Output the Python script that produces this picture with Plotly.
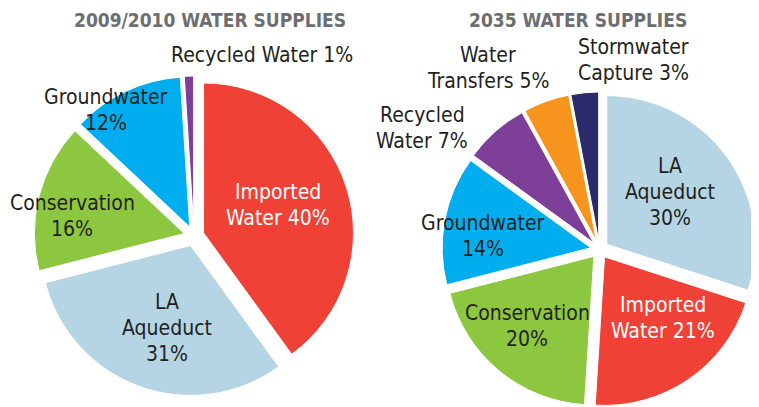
import plotly.graph_objects as go

W, H = 759, 407
OFF = 8  # Standard-Rand des <body> im Browser
FIG_W, FIG_H = W - OFF, H - OFF
FONT = "DejaVu Sans Condensed, Liberation Sans Narrow, Arial Narrow, sans-serif"
INK = "#231F20"
TITLE_GRAY = "#6D6E71"

# 2009/2010, im Uhrzeigersinn ab 12 Uhr
labels_2010 = ["Imported Water", "LA Aqueduct", "Conservation", "Groundwater", "Recycled Water"]
values_2010 = [40, 31, 16, 12, 1]
text_2010 = ["Imported<br>Water {}%", "LA<br>Aqueduct<br>{}%", "Conservation<br>{}%",
             "Groundwater<br>{}%", "Recycled Water {}%"]

# 2035
labels_2035 = ["LA Aqueduct", "Imported Water", "Conservation", "Groundwater",
               "Recycled Water", "Water Transfers", "Stormwater Capture"]
values_2035 = [30, 21, 20, 14, 7, 5, 3]
text_2035 = ["LA<br>Aqueduct<br>{}%", "Imported<br>Water {}%", "Conservation<br>{}%",
             "Groundwater<br>{}%", "Recycled<br>Water {}%", "Water<br>Transfers {}%",
             "Stormwater<br>Capture {}%"]

COLORS = {
    "Imported Water": "#EF4136",
    "LA Aqueduct": "#B5D5E4",
    "Conservation": "#8DC63F",
    "Groundwater": "#00AEEF",
    "Recycled Water": "#7E3F98",
    "Water Transfers": "#F7941D",
    "Stormwater Capture": "#2B2A6A",
}

# Label-Positionen (Pixel im Fenster, Mitte des Textblocks)
pos_2010 = [(278, 205), (167, 328), (72, 216), (106, 110), (262, 55)]
pos_2035 = [(670, 192), (663, 318), (527, 326), (483, 236), (422, 128), (488, 68), (633, 60)]


def px(x):
    return (x - OFF) / FIG_W


def py(y):
    return 1 - (y - OFF) / FIG_H


def add_pie(fig, labels, values, dom_x, dom_y, pull):
    fig.add_pie(
        labels=labels, values=values, sort=False, direction="clockwise", rotation=0,
        marker=dict(colors=[COLORS[l] for l in labels], line=dict(color="white", width=1)),
        pull=[pull] * len(values), textinfo="none", hoverinfo="label+percent",
        domain=dict(x=[max(px(dom_x[0]), 0), min(px(dom_x[1]), 1)],
                    y=[max(py(dom_y[1]), 0), min(py(dom_y[0]), 1)]),
    )


def add_labels(fig, labels, values, templates, positions):
    for lab, val, tpl, (cx, cy) in zip(labels, values, templates, positions):
        lines = tpl.format(val).split("<br>")
        color = "white" if lab == "Imported Water" else INK
        for i, line in enumerate(lines):
            y = cy + (i - (len(lines) - 1) / 2) * 26
            fig.add_annotation(
                x=px(cx), y=py(y), xref="paper", yref="paper", text=line,
                xanchor="center", yanchor="middle", showarrow=False,
                font=dict(family=FONT, size=21, color=color),
            )


fig = go.Figure()
add_pie(fig, labels_2010, values_2010, (34, 354), (76, 396), 0.067)
add_pie(fig, labels_2035, values_2035, (440, 759), (92, 407), 0.06)
add_labels(fig, labels_2010, values_2010, text_2010, pos_2010)
add_labels(fig, labels_2035, values_2035, text_2035, pos_2035)

for title, cx in [("<b>2009/2010 WATER SUPPLIES</b>", 210), ("<b>2035 WATER SUPPLIES</b>", 578)]:
    fig.add_annotation(
        x=px(cx), y=py(20), xref="paper", yref="paper", text=title,
        xanchor="center", yanchor="middle", showarrow=False,
        font=dict(family=FONT, size=19, color=TITLE_GRAY),
    )

fig.update_layout(
    width=FIG_W, height=FIG_H, margin=dict(l=0, r=0, t=0, b=0),
    showlegend=False, paper_bgcolor="white", plot_bgcolor="white",
)
fig.write_html("out.html")
